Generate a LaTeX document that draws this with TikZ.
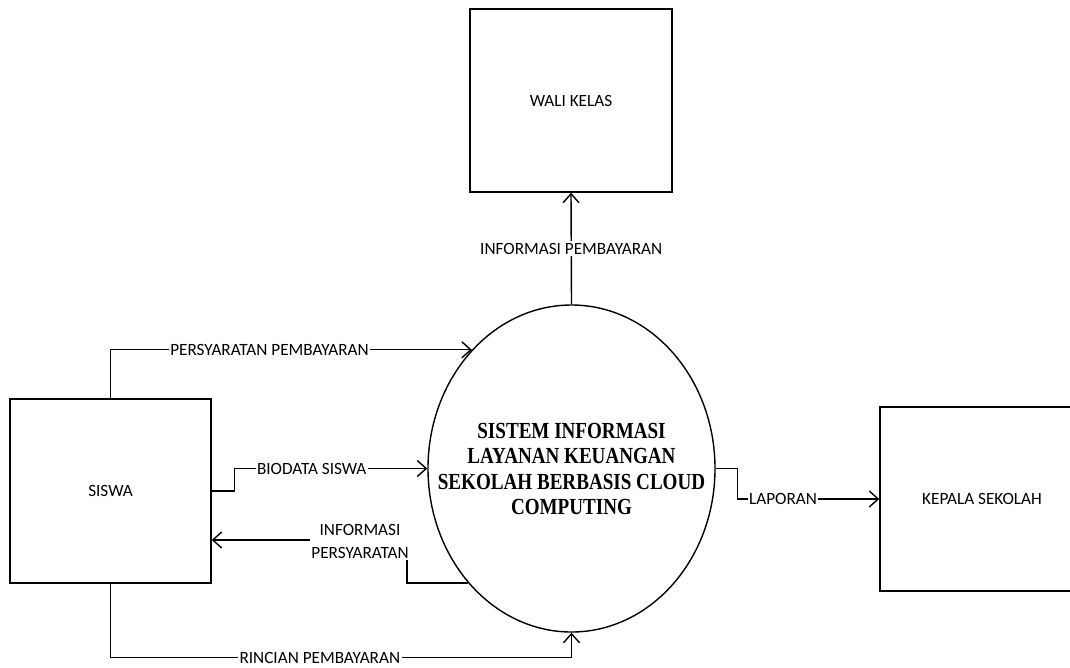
\documentclass[tikz,border=0pt]{standalone}
\usepackage{fontspec}
\setmainfont{Carlito}
\newfontfamily\procfont{Liberation Serif}
\usetikzlibrary{arrows.meta,shapes.geometric}
\newcommand\lblfont{\fontsize{17.2}{23}\selectfont}
\newcommand\procfontsize{\procfont\bfseries\fontsize{23}{25.5}\selectfont}

\begin{document}
\begin{tikzpicture}[x=1pt,y=-1pt,
  entity/.style={draw,line width=1.4pt,rectangle,inner sep=0pt,font=\lblfont},
  process/.style={draw,ellipse,line width=1.4pt,inner sep=0pt},
  flow/.style={line width=1.4pt,-{Straight Barb[length=9pt,width=16pt,line width=1.4pt]}},
  flowlabel/.style={fill=white,inner sep=1.5pt,font=\lblfont}
]
\fill[white] (0,0) rectangle (1070,667);
\useasboundingbox (0,0) rectangle (1070,667);
\clip (0,0) rectangle (1070,667);

% external entities
\node[entity, minimum width=202pt, minimum height=183pt] (wali) at (571,100.5) {WALI KELAS};
\node[entity, minimum width=201pt, minimum height=184pt] (siswa) at (110.5,491) {SISWA};
\node[entity, minimum width=204pt, minimum height=184pt] (kepala) at (982,499) {KEPALA SEKOLAH};

% the process
\node[process, minimum width=287pt, minimum height=327pt] (proc) at (571.5,468.5) {};
\node[inner sep=0pt, font=\procfontsize] (proctext) at (571.5,471.4)
  {\scalebox{0.83}[1]{\begin{tabular}{@{}c@{}}SISTEM INFORMASI\\LAYANAN KEUANGAN\\SEKOLAH BERBASIS CLOUD\\COMPUTING\end{tabular}}};

% data flows
\draw[flow] (proc.north) -- node[flowlabel] (lblinfo) {INFORMASI PEMBAYARAN} (wali.south);
\draw[flow] (siswa.north) |- node[flowlabel, pos=0.72] (lblsyarat) {PERSYARATAN PEMBAYARAN} (proc.130.8);
\draw[flow] (siswa.east) -- ++(23,0) |- node[flowlabel, pos=0.70] (lblbio) {BIODATA SISWA} (proc.west);
\coordinate (ipbend) at (407,540);
\draw[flow] (proc.228.2) -| (ipbend) -- (siswa.east |- ipbend);
\node[flowlabel, align=center] (lblinfosyarat) at (360,541) {INFORMASI\\PERSYARATAN};
\draw[flow] (siswa.south) -- ++(0,74) -| node[flowlabel, pos=0.227] (lblrincian) {RINCIAN PEMBAYARAN} (proc.south);
\draw[flow] (proc.east) -- ++(22,0) |- node[flowlabel, pos=0.66] (lbllaporan) {LAPORAN} (kepala.west);
\end{tikzpicture}
\end{document}
